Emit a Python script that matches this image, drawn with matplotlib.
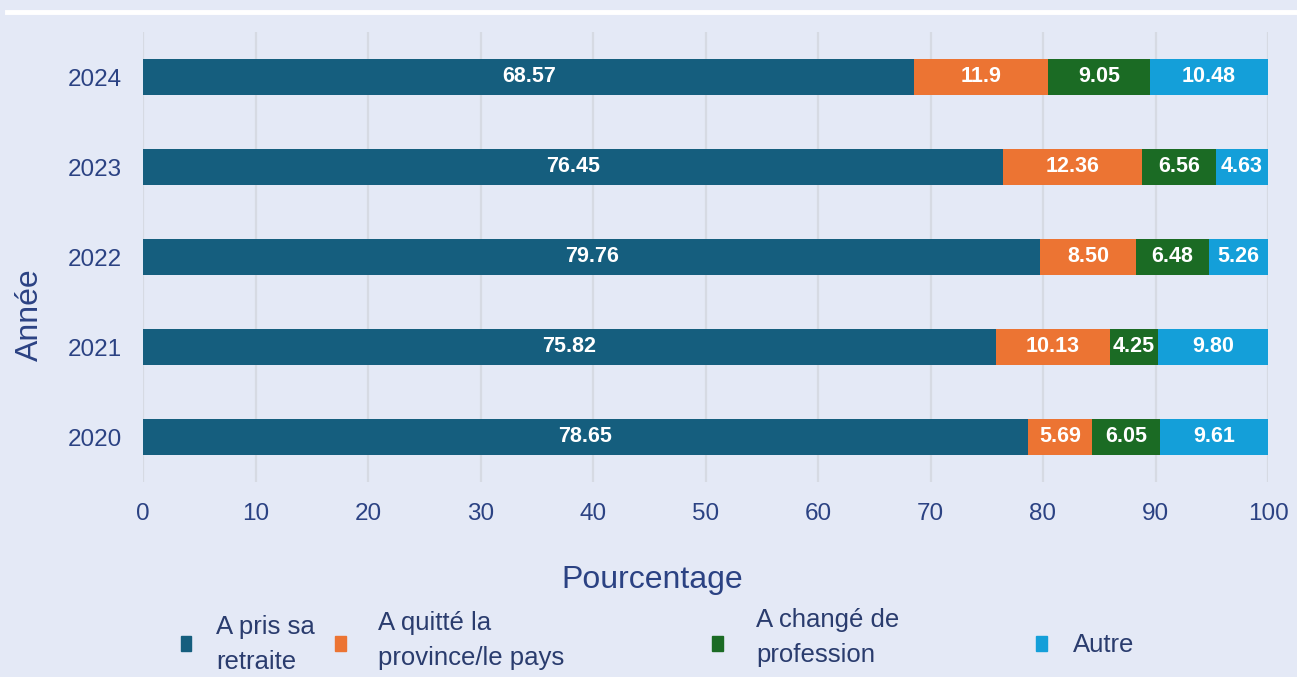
import numpy as np
import matplotlib
matplotlib.use("Agg")
import matplotlib.pyplot as plt
from matplotlib.patches import Rectangle
from matplotlib.lines import Line2D

years = ["2020", "2021", "2022", "2023", "2024"]
series_names = ["A pris sa\nretraite", "A quitté la\nprovince/le pays", "A changé de\nprofession", "Autre"]
retraite = ["78.65", "75.82", "79.76", "76.45", "68.57"]
quitte = ["5.69", "10.13", "8.50", "12.36", "11.9"]
change = ["6.05", "4.25", "6.48", "6.56", "9.05"]
autre = ["9.61", "9.80", "5.26", "4.63", "10.48"]
colors = ["#155e7e", "#ec7433", "#1b6b24", "#149fd9"]
xticks = np.arange(0, 101, 10)

bg = "#e4e9f6"
txt = "#2b4283"
plt.rcParams['font.family'] = ['Liberation Sans', 'DejaVu Sans']

fig = plt.figure(figsize=(12.97, 6.77), dpi=100, facecolor=bg)
W, H = 1297, 677
ax = fig.add_axes([143/W, 1-482/H, (1268-143)/W, (482-32)/H])
ax.set_facecolor(bg)

y = np.arange(len(years))
left = np.zeros(len(years))
for vals, c in zip([retraite, quitte, change, autre], colors):
    v = np.array(vals, dtype=float)
    bars = ax.barh(y, v, left=left, height=0.4, color=c, zorder=3)
    ax.bar_label(bars, labels=vals, label_type='center', color='white',
                 fontsize=15.5, fontweight='bold')
    left += v

ax.set_xlim(0, 100)
ax.set_ylim(-0.5, len(years)-0.5)
ax.set_xticks(xticks)
ax.set_yticks(y)
ax.set_yticklabels(years)
ax.tick_params(length=0, labelsize=17.5, labelcolor=txt)
ax.tick_params(axis='y', pad=15)
ax.tick_params(axis='x', pad=15)
ax.grid(axis='x', color='#d6dae3', linewidth=1.6, zorder=0)
for s in ax.spines.values():
    s.set_visible(False)

fig.text(652/W, 1-588/H, "Pourcentage", fontsize=23, color=txt, ha='center', va='baseline')
fig.text(30/W, 1-315/H, "Année", fontsize=23, color=txt, ha='center', va='center', rotation=90)

# top white rule
fig.add_artist(Line2D([7/W, 1.0], [1-12/H, 1-12/H], color='white', linewidth=3.5))

# legend
sq_x = [186, 340, 717, 1041]
tx_x = [216, 378, 756, 1073]
base_y = [634, 630, 627, 652]
for c, name, sx, tx, by in zip(colors, series_names, sq_x, tx_x, base_y):
    fig.add_artist(Rectangle(((sx-5.5)/W, 1-(643+7.5)/H), 11/W, 15/H, color=c,
                             transform=fig.transFigure))
    for i, line in enumerate(name.split("\n")):
        fig.text(tx/W, 1-(by+35*i)/H, line, fontsize=18.5, color="#2a3c6e",
                 ha='left', va='baseline')

fig.savefig("out.png", dpi=100, facecolor=bg)
